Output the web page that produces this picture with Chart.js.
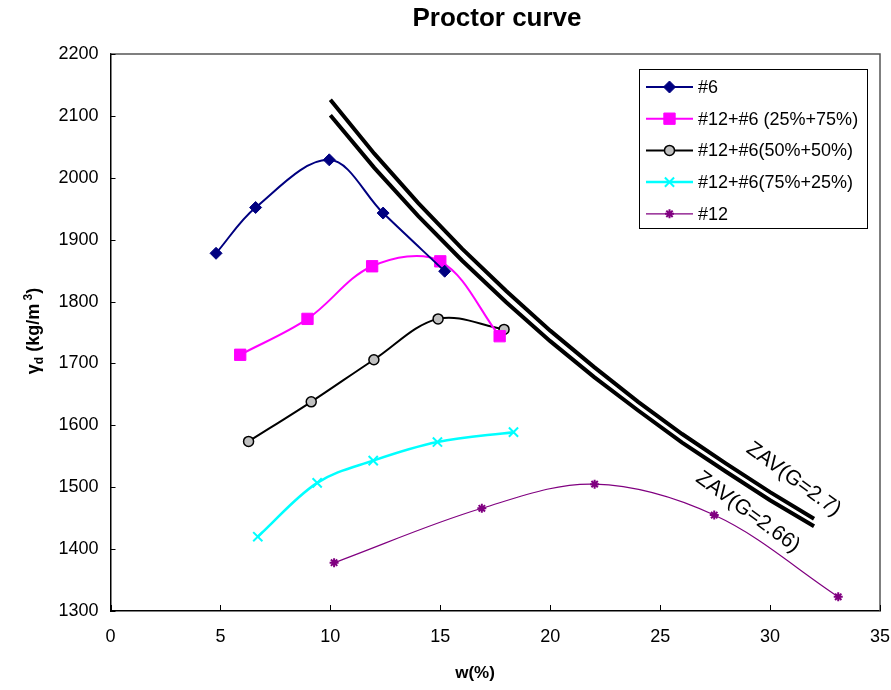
<!DOCTYPE html>
<html>
<head>
<meta charset="utf-8">
<script src="https://cdn.jsdelivr.net/npm/chart.js@4.4.0/dist/chart.umd.min.js"></script>
<style>
  body { margin: 0; background: #fff; }
  #proctorChart { display: block; }
</style>
</head>
<body>
<canvas id="proctorChart" width="891" height="690"></canvas>
<script>
// water content (%) and dry density (kg/m3)
const wSix = [4.8, 6.6, 9.95, 12.4, 15.2];
const gdSix = [1878, 1952, 2029, 1943, 1849];
const wMix25 = [5.9, 8.96, 11.9, 15.0, 17.7];
const gdMix25 = [1714, 1772, 1857, 1865, 1744];
const wMix50 = [6.28, 9.13, 11.98, 14.9, 17.9];
const gdMix50 = [1574, 1638, 1706, 1772, 1755];
const wMix75 = [6.7, 9.4, 11.95, 14.87, 18.33];
const gdMix75 = [1420, 1507, 1543, 1573, 1589];
const wTwelve = [10.17, 16.89, 22.02, 27.46, 33.1];
const gdTwelve = [1378, 1466, 1505, 1455, 1323];

// zero air voids lines
const wZav = [10, 12, 14, 16, 18, 20, 22, 24, 26, 28, 30, 32];
const zav27 = [2126, 2039, 1959, 1885, 1817, 1753, 1694, 1638, 1586, 1538, 1492, 1449];
const zav266 = [2101, 2016, 1938, 1866, 1799, 1736, 1678, 1624, 1572, 1525, 1479, 1437];
const zavLabels = ["ZAV(G=2.7)", "ZAV(G=2.66)"];
const zavLabelAt = [[31.07, 1513], [28.99, 1460]];

const chartTitle = "Proctor curve";
const xTitle = "w(%)";
const xTicks = [0, 5, 10, 15, 20, 25, 30, 35];
const yTicks = [1300, 1400, 1500, 1600, 1700, 1800, 1900, 2000, 2100, 2200];

const FONT = "'Liberation Sans', Arial, Helvetica, sans-serif";

function pts(xs, ys) {
  return xs.map((x, i) => ({ x: x, y: ys[i] }));
}

function seriesSet(label, xs, ys, color, lineWidth, style, radius, fill, markerBorder, markerWidth) {
  return {
    label: label,
    data: pts(xs, ys),
    showLine: true,
    borderColor: color,
    borderWidth: lineWidth,
    tension: 0.35,
    pointStyle: style,
    pointRadius: radius,
    pointHoverRadius: radius,
    pointBackgroundColor: fill,
    pointBorderColor: markerBorder,
    pointBorderWidth: markerWidth,
    legendRow: true,
  };
}

function zavSet(label, ys) {
  return {
    label: label,
    data: pts(wZav, ys),
    showLine: true,
    borderColor: "#000",
    borderWidth: 4,
    tension: 0,
    pointRadius: 0,
    pointHoverRadius: 0,
  };
}

const datasets = [
  seriesSet("#6", wSix, gdSix, "#000080", 2, "rectRot", 6, "#000080", "#000080", 1),
  seriesSet("#12+#6 (25%+75%)", wMix25, gdMix25, "#ff00ff", 2, "rect", 8, "#ff00ff", "#ff00ff", 1),
  seriesSet("#12+#6(50%+50%)", wMix50, gdMix50, "#000", 2, "circle", 5, "#c0c0c0", "#000", 1.5),
  seriesSet("#12+#6(75%+25%)", wMix75, gdMix75, "#00ffff", 2.5, "crossRot", 6.5, "#00ffff", "#00ffff", 2),
  seriesSet("#12", wTwelve, gdTwelve, "#800080", 1.2, "star", 4.5, "#800080", "#800080", 2),
  zavSet(zavLabels[0], zav27),
  zavSet(zavLabels[1], zav266),
];

// texts, frame, inner ticks and legend drawn on top
const decorPlugin = {
  id: "decor",
  afterDraw(chart) {
    const ctx = chart.ctx;
    const area = chart.chartArea;
    const xs = chart.scales.x;
    const ys = chart.scales.y;
    ctx.save();

    // plot frame
    ctx.strokeStyle = "#555";
    ctx.lineWidth = 1.5;
    ctx.beginPath();
    ctx.moveTo(area.left, area.top);
    ctx.lineTo(area.right, area.top);
    ctx.lineTo(area.right, area.bottom);
    ctx.stroke();

    // tick marks pointing inward
    ctx.strokeStyle = "#000";
    ctx.lineWidth = 1;
    xTicks.forEach((v) => {
      const px = Math.round(xs.getPixelForValue(v)) + 0.5;
      ctx.beginPath();
      ctx.moveTo(px, area.bottom);
      ctx.lineTo(px, area.bottom - 6);
      ctx.stroke();
    });
    yTicks.forEach((v) => {
      const py = Math.round(ys.getPixelForValue(v)) + 0.5;
      ctx.beginPath();
      ctx.moveTo(area.left, py);
      ctx.lineTo(area.left + 5, py);
      ctx.stroke();
    });

    ctx.fillStyle = "#000";
    // title
    ctx.font = "bold 26px " + FONT;
    ctx.textAlign = "center";
    ctx.textBaseline = "middle";
    ctx.fillText(chartTitle, 497, 19);

    // x axis title
    ctx.font = "bold 17px " + FONT;
    ctx.fillText(xTitle, 475, 673);

    // y axis title with subscript and superscript
    ctx.save();
    ctx.translate(33, 331);
    ctx.rotate(-Math.PI / 2);
    ctx.textAlign = "left";
    ctx.textBaseline = "alphabetic";
    const parts = [
      ["γ", 18, 0],
      ["d", 12, 4],
      [" (kg/m", 18, 0],
      [" 3", 12, -7],
      [")", 18, 0],
    ];
    let total = 0;
    parts.forEach((p) => {
      ctx.font = "bold " + p[1] + "px " + FONT;
      total += ctx.measureText(p[0]).width;
    });
    let cx = -total / 2;
    parts.forEach((p) => {
      ctx.font = "bold " + p[1] + "px " + FONT;
      ctx.fillText(p[0], cx, 6 + p[2]);
      cx += ctx.measureText(p[0]).width;
    });
    ctx.restore();

    // ZAV labels along the lines
    ctx.font = "21px " + FONT;
    ctx.textAlign = "center";
    ctx.textBaseline = "middle";
    zavLabels.forEach((txt, i) => {
      ctx.save();
      ctx.translate(xs.getPixelForValue(zavLabelAt[i][0]), ys.getPixelForValue(zavLabelAt[i][1]));
      ctx.rotate(36 * Math.PI / 180);
      ctx.fillText(txt, 0, 0);
      ctx.restore();
    });

    // legend box
    const box = { left: 639, top: 69, right: 867, bottom: 228 };
    ctx.fillStyle = "#fff";
    ctx.fillRect(box.left, box.top, box.right - box.left, box.bottom - box.top);
    ctx.strokeStyle = "#000";
    ctx.lineWidth = 1;
    ctx.strokeRect(box.left + 0.5, box.top + 0.5, box.right - box.left, box.bottom - box.top);

    const rows = chart.data.datasets.filter((d) => d.legendRow);
    rows.forEach((d, i) => {
      const y = 87 + i * 31.7;
      ctx.strokeStyle = d.borderColor;
      ctx.lineWidth = d.borderWidth;
      ctx.beginPath();
      ctx.moveTo(646, y);
      ctx.lineTo(693, y);
      ctx.stroke();
      ctx.fillStyle = d.pointBackgroundColor;
      ctx.strokeStyle = d.pointBorderColor;
      ctx.lineWidth = d.pointBorderWidth;
      if (Chart.helpers && Chart.helpers.drawPoint) {
        Chart.helpers.drawPoint(ctx, {
          pointStyle: d.pointStyle,
          radius: d.pointRadius,
          borderWidth: d.pointBorderWidth,
          rotation: 0,
        }, 669.5, y);
      }
      ctx.fillStyle = "#000";
      ctx.font = "18px " + FONT;
      ctx.textAlign = "left";
      ctx.textBaseline = "middle";
      ctx.fillText(d.label, 698, y + 1);
    });

    ctx.restore();
  },
};

const chartCtx = document.getElementById("proctorChart").getContext("2d");
const proctorChart = new Chart(chartCtx, {
  type: "scatter",
  data: { datasets: datasets },
  options: {
    responsive: false,
    animation: false,
    devicePixelRatio: 1,
    layout: { padding: { top: 54, right: 11, left: 0, bottom: 0 } },
    plugins: {
      legend: { display: false },
      title: { display: false },
      tooltip: { enabled: false },
    },
    scales: {
      x: {
        type: "linear",
        min: 0,
        max: 35,
        afterBuildTicks: (s) => { s.ticks = xTicks.map((v) => ({ value: v })); },
        afterFit: (s) => {
          s.height = 79;
          s.paddingLeft = 0;
          s.paddingRight = 0;
        },
        ticks: {
          autoSkip: false,
          maxRotation: 0,
          padding: 15,
          color: "#000",
          font: { family: FONT, size: 18 },
          callback: (v) => String(v),
        },
        grid: { display: false, drawTicks: false },
        border: { display: true, color: "#000", width: 1.5 },
      },
      y: {
        min: 1300,
        max: 2200,
        afterBuildTicks: (s) => { s.ticks = yTicks.map((v) => ({ value: v })); },
        afterFit: (s) => {
          s.width = 110.5;
          s.paddingTop = 0;
          s.paddingBottom = 0;
        },
        ticks: {
          autoSkip: false,
          padding: 12,
          color: "#000",
          font: { family: FONT, size: 18 },
          callback: (v) => String(v),
        },
        grid: { display: false, drawTicks: false },
        border: { display: true, color: "#000", width: 1.5 },
      },
    },
  },
  plugins: [decorPlugin],
});
</script>
</body>
</html>
